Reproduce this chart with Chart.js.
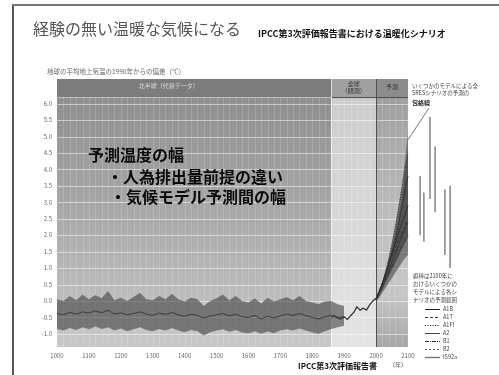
<!DOCTYPE html>
<html lang="ja">
<head>
<meta charset="utf-8">
<script src="https://cdn.jsdelivr.net/npm/chart.js@4.4.1/dist/chart.umd.min.js"></script>
<style>
html,body{margin:0;padding:0;background:#fff;}
#wrap{position:relative;width:499px;height:375px;}
</style>
</head>
<body>
<div id="wrap"><canvas id="c" width="499" height="375"></canvas></div>
<script>
const JP = '"Noto Sans CJK JP", "Noto Sans", sans-serif';

// axis tick labels
const yearTicks = [1000, 1100, 1200, 1300, 1400, 1500, 1600, 1700, 1800, 1900, 2000, 2100];
const tempTicks = [-1.0, -0.5, 0.0, 0.5, 1.0, 1.5, 2.0, 2.5, 3.0, 3.5, 4.0, 4.5, 5.0, 5.5, 6.0];

// Northern Hemisphere reconstruction (departure from 1990, °C)
const proxyYears = [1000, 1020, 1040, 1060, 1080, 1100, 1120, 1140, 1160, 1180,
                    1200, 1220, 1240, 1260, 1280, 1300, 1320, 1340, 1360, 1380,
                    1400, 1420, 1440, 1460, 1480, 1500, 1520, 1540, 1560, 1580,
                    1600, 1620, 1640, 1660, 1680, 1700, 1720, 1740, 1760, 1780,
                    1800, 1820, 1840, 1860, 1880, 1900];
const proxyMid  = [-0.38, -0.42, -0.35, -0.40, -0.33, -0.37, -0.30, -0.36, -0.28, -0.40,
                   -0.36, -0.42, -0.38, -0.33, -0.40, -0.44, -0.37, -0.41, -0.35, -0.42,
                   -0.47, -0.40, -0.44, -0.52, -0.46, -0.42, -0.38, -0.45, -0.40, -0.48,
                   -0.50, -0.44, -0.55, -0.46, -0.52, -0.45, -0.40, -0.44, -0.38, -0.45,
                   -0.50, -0.55, -0.48, -0.44, -0.50, -0.48];
const proxyHigh = [0.05, 0.00, 0.15, 0.02, 0.20, 0.05, 0.18, 0.08, 0.30, 0.02,
                   0.10, 0.00, 0.12, 0.25, 0.05, 0.02, 0.15, 0.05, 0.22, 0.05,
                   -0.02, 0.10, 0.05, -0.15, 0.00, 0.08, 0.20, 0.02, 0.15, 0.00,
                   -0.05, 0.08, -0.08, 0.10, -0.02, 0.05, 0.12, 0.02, 0.15, 0.00,
                   -0.05, -0.10, -0.02, 0.00, -0.10, -0.15];
const proxyLow  = [-0.85, -0.90, -0.82, -0.88, -0.80, -0.86, -0.78, -0.85, -0.80, -0.90,
                   -0.84, -0.92, -0.86, -0.80, -0.88, -0.92, -0.85, -0.90, -0.82, -0.90,
                   -0.95, -0.88, -0.92, -1.05, -0.95, -0.90, -0.86, -0.94, -0.88, -0.96,
                   -0.98, -0.92, -1.00, -0.93, -0.98, -0.90, -0.86, -0.90, -0.84, -0.90,
                   -0.96, -1.00, -0.92, -0.85, -0.80, -0.75];

// global instrumental record
const obsYears = [1860, 1870, 1880, 1890, 1900, 1910, 1920, 1930, 1940, 1950, 1960, 1970, 1980, 1990, 2000];
const obsTemp  = [-0.50, -0.45, -0.52, -0.55, -0.48, -0.56, -0.45, -0.35, -0.18, -0.28, -0.22, -0.28, -0.12, 0.00, 0.08];

// projections 2000-2100
const projYears    = [2000, 2010, 2020, 2030, 2040, 2050, 2060, 2070, 2080, 2090, 2100];
const envOuterLow  = [0.00, 0.10, 0.25, 0.40, 0.55, 0.70, 0.85, 1.00, 1.15, 1.30, 1.40];
const envOuterHigh = [0.05, 0.30, 0.60, 0.95, 1.35, 1.80, 2.30, 2.85, 3.45, 4.20, 5.10];
const envInnerLow  = [0.00, 0.15, 0.35, 0.55, 0.75, 0.95, 1.15, 1.35, 1.55, 1.75, 2.00];
const envInnerHigh = [0.05, 0.25, 0.50, 0.85, 1.20, 1.60, 2.05, 2.55, 3.10, 3.75, 4.50];

const scenarioNames = ['A1B', 'A1T', 'A1FI', 'A2', 'B1', 'B2', 'IS92a'];
const scenA1B   = [0.05, 0.30, 0.55, 0.85, 1.15, 1.45, 1.75, 2.05, 2.35, 2.60, 2.90];
const scenA1T   = [0.05, 0.30, 0.55, 0.85, 1.10, 1.35, 1.60, 1.85, 2.05, 2.25, 2.45];
const scenA1FI  = [0.05, 0.25, 0.50, 0.85, 1.25, 1.70, 2.20, 2.75, 3.35, 3.95, 4.50];
const scenA2    = [0.05, 0.25, 0.50, 0.80, 1.10, 1.45, 1.85, 2.30, 2.80, 3.30, 3.80];
const scenB1    = [0.05, 0.25, 0.45, 0.65, 0.85, 1.05, 1.25, 1.45, 1.65, 1.80, 2.00];
const scenB2    = [0.05, 0.25, 0.50, 0.75, 0.95, 1.20, 1.40, 1.65, 1.90, 2.15, 2.40];
const scenIS92a = [0.05, 0.25, 0.45, 0.70, 0.95, 1.20, 1.45, 1.70, 1.95, 2.20, 2.40];

// range reached in 2100 by several models, per scenario
const rangeNames = ['A1B', 'A1T', 'A1FI', 'A2', 'B1', 'B2'];
const rangeLow   = [2.0, 1.8, 3.1, 2.7, 1.4, 1.0];
const rangeHigh  = [3.8, 3.3, 5.6, 4.7, 3.4, 3.5];

// ---- drawing setup ----
const scenarioSeries = [scenA1B, scenA1T, scenA1FI, scenA2, scenB1, scenB2, scenIS92a];
const scenarioStyle = [
  { color: '#222', width: 1,   dash: [] },
  { color: '#333', width: 1,   dash: [3, 2] },
  { color: '#111', width: 1,   dash: [1, 1.5] },
  { color: '#444', width: 1,   dash: [] },
  { color: '#333', width: 1,   dash: [4, 1, 1, 1] },
  { color: '#555', width: 1,   dash: [2, 2] },
  { color: '#777', width: 1.4, dash: [] }
];
// horizontal slots (in year units, right of 2100) for the 2100 range bars
const barSlots = [2138, 2150, 2169, 2185, 2216, 2232];

const pts = (xs, ys) => xs.map((x, i) => ({ x: x, y: ys[i] }));
const base = { pointRadius: 0, borderWidth: 0, tension: 0 };

const rangePoints = [];
rangeNames.forEach((n, i) => {
  rangePoints.push({ x: barSlots[i], y: rangeLow[i] });
  rangePoints.push({ x: barSlots[i], y: rangeHigh[i] });
  rangePoints.push({ x: barSlots[i], y: null });
});

const datasets = [
  Object.assign({}, base, { label: 'proxyLow',  data: pts(proxyYears, proxyLow),  fill: false, borderColor: 'transparent' }),
  Object.assign({}, base, { label: 'proxyHigh', data: pts(proxyYears, proxyHigh), fill: '-1', borderColor: 'transparent', backgroundColor: 'rgba(60,60,60,0.58)' }),
  Object.assign({}, base, { label: 'proxy',     data: pts(proxyYears, proxyMid),  fill: false, borderColor: '#3a3a3a', borderWidth: 1 }),
  Object.assign({}, base, { label: 'obs',       data: pts(obsYears, obsTemp),     fill: false, borderColor: '#333', borderWidth: 1.3 }),
  Object.assign({}, base, { label: 'outerLow',  data: pts(projYears, envOuterLow), fill: false, borderColor: 'transparent' }),
  Object.assign({}, base, { label: 'outerHigh', data: pts(projYears, envOuterHigh), fill: '-1', borderColor: 'transparent', backgroundColor: 'rgba(60,60,60,0.55)' }),
  Object.assign({}, base, { label: 'innerLow',  data: pts(projYears, envInnerLow), fill: false, borderColor: 'transparent' }),
  Object.assign({}, base, { label: 'innerHigh', data: pts(projYears, envInnerHigh), fill: '-1', borderColor: 'transparent', backgroundColor: 'rgba(30,30,30,0.5)' })
];
scenarioNames.forEach((n, i) => {
  const st = scenarioStyle[i];
  datasets.push(Object.assign({}, base, {
    label: n, data: pts(projYears, scenarioSeries[i]), fill: false,
    borderColor: st.color, borderWidth: st.width, borderDash: st.dash
  }));
});
datasets.push(Object.assign({}, base, {
  label: 'range2100', data: rangePoints, fill: false, spanGaps: false,
  borderColor: '#666', borderWidth: 1.2
}));

// backgrounds, grid, header band and frame
const backdrop = {
  id: 'backdrop',
  beforeDraw(chart) {
    const ctx = chart.ctx, a = chart.chartArea;
    const xs = chart.scales.x, ys = chart.scales.y;
    const xp = v => xs.getPixelForValue(v), yp = v => ys.getPixelForValue(v);
    ctx.save();
    ctx.fillStyle = '#fff';
    ctx.fillRect(0, 0, chart.width, chart.height);

    // slide frame
    ctx.fillStyle = '#555';
    ctx.fillRect(12, 4, 2, chart.height - 4);
    ctx.fillStyle = '#777';
    ctx.fillRect(12, 4, chart.width - 12, 2);

    const top = a.top, bot = a.bottom;
    const x0 = xp(1000), x1 = xp(1860), x2 = xp(2000), x3 = xp(2100);

    let g = ctx.createLinearGradient(0, top, 0, bot);
    g.addColorStop(0, '#8a8a8a'); g.addColorStop(0.45, '#a6a6a6'); g.addColorStop(1, '#c8c8c8');
    ctx.fillStyle = g; ctx.fillRect(x0, top, x1 - x0, bot - top);

    g = ctx.createLinearGradient(0, top, 0, bot);
    g.addColorStop(0, '#cbcbcb'); g.addColorStop(1, '#e4e4e4');
    ctx.fillStyle = g; ctx.fillRect(x1, top, x2 - x1, bot - top);

    g = ctx.createLinearGradient(0, top, 0, bot);
    g.addColorStop(0, '#9a9a9a'); g.addColorStop(0.55, '#c0c0c0'); g.addColorStop(0.8, '#c6c6c6'); g.addColorStop(1, '#a6a6a6');
    ctx.fillStyle = g; ctx.fillRect(x2, top, x3 - x2, bot - top);

    // fine vertical grid
    ctx.strokeStyle = 'rgba(255,255,255,0.16)';
    ctx.lineWidth = 1;
    for (let yr = 1020; yr < 2100; yr += 20) {
      const x = Math.round(xp(yr)) + 0.5;
      ctx.beginPath(); ctx.moveTo(x, top); ctx.lineTo(x, bot); ctx.stroke();
    }
    // horizontal grid at tick values
    ctx.strokeStyle = 'rgba(255,255,255,0.5)';
    tempTicks.forEach(v => {
      const y = Math.round(yp(v)) + 0.5;
      ctx.beginPath(); ctx.moveTo(x0, y); ctx.lineTo(x3, y); ctx.stroke();
    });

    // header band
    const hb = yp(6.2);
    ctx.fillStyle = '#7c7c7c'; ctx.fillRect(x0, top, x1 - x0, hb - top);
    ctx.fillStyle = '#a0a0a0'; ctx.fillRect(x1, top, x2 - x1, hb - top);
    ctx.fillStyle = '#8c8c8c'; ctx.fillRect(x2, top, x3 - x2, hb - top);
    ctx.strokeStyle = 'rgba(255,255,255,0.45)';
    ctx.beginPath(); ctx.moveTo(x0, hb + 0.5); ctx.lineTo(x1, hb + 0.5); ctx.stroke();
    ctx.strokeStyle = '#4a4a4a';
    ctx.beginPath(); ctx.moveTo(x1, hb + 0.5); ctx.lineTo(x3, hb + 0.5); ctx.stroke();

    // period separators
    ctx.strokeStyle = 'rgba(255,255,255,0.6)';
    ctx.beginPath(); ctx.moveTo(Math.round(x1) + 0.5, top); ctx.lineTo(Math.round(x1) + 0.5, bot); ctx.stroke();
    ctx.strokeStyle = '#505050';
    ctx.beginPath(); ctx.moveTo(Math.round(x2) + 0.5, top); ctx.lineTo(Math.round(x2) + 0.5, bot); ctx.stroke();

    // header labels
    ctx.textBaseline = 'middle';
    ctx.textAlign = 'center';
    ctx.font = '6px ' + JP;
    ctx.fillStyle = '#dedede';
    ctx.fillText('北半球（代替データ）', xp(1350), top + 7);
    ctx.fillStyle = '#333';
    ctx.fillText('全球', xp(1930), top + 5);
    ctx.fillText('（観測）', xp(1930), top + 12);
    ctx.fillText('予測', xp(2050), top + 8);
    ctx.restore();
  },
  afterDatasetsDraw(chart) {
    const ctx = chart.ctx;
    const xs = chart.scales.x, ys = chart.scales.y;
    const xp = v => xs.getPixelForValue(v), yp = v => ys.getPixelForValue(v);
    ctx.save();
    ctx.textBaseline = 'middle';
    ctx.textAlign = 'left';

    // headings
    ctx.fillStyle = '#555';
    ctx.font = '16px ' + JP;
    ctx.fillText('経験の無い温暖な気候になる', 33, 29);
    ctx.fillStyle = '#111';
    ctx.font = 'bold 9px ' + JP;
    ctx.fillText('IPCC第3次評価報告書における温暖化シナリオ', 258, 34);
    ctx.fillStyle = '#666';
    ctx.font = '6.5px ' + JP;
    ctx.fillText('地球の平均地上気温の1990年からの偏差（℃）', 47, 72);

    // in-plot annotation
    ctx.fillStyle = '#0a0a0a';
    ctx.font = 'bold 16px ' + JP;
    ctx.fillText('予測温度の幅', 88, 155);
    ctx.fillText('・人為排出量前提の違い', 107, 177);
    ctx.fillText('・気候モデル予測間の幅', 110, 197);

    // envelope callout
    ctx.fillStyle = '#444';
    ctx.font = '5.5px ' + JP;
    ctx.fillText('いくつかのモデルによる全', 412, 86);
    ctx.fillText('SRESシナリオの予測の', 412, 93);
    ctx.font = 'bold 6px ' + JP;
    ctx.fillStyle = '#222';
    ctx.fillText('包絡線', 412, 103);
    ctx.strokeStyle = '#555';
    ctx.lineWidth = 0.8;
    ctx.beginPath(); ctx.moveTo(429, 108); ctx.lineTo(xp(2100), yp(4.9)); ctx.stroke();

    // range bar caption
    ctx.fillStyle = '#444';
    ctx.font = '5.5px ' + JP;
    ['縦棒は2100年に', 'おけるいくつかの', 'モデルによる各シ', 'ナリオの予測範囲'].forEach((t, i) => {
      ctx.fillText(t, 413, 276 + i * 8);
    });

    // scenario key
    scenarioNames.forEach((n, i) => {
      const st = scenarioStyle[i];
      const y = 309 + i * 8;
      ctx.strokeStyle = st.color;
      ctx.lineWidth = st.width;
      ctx.setLineDash(st.dash);
      ctx.beginPath(); ctx.moveTo(425, y + 0.5); ctx.lineTo(440, y + 0.5); ctx.stroke();
      ctx.setLineDash([]);
      ctx.fillStyle = '#444';
      ctx.font = '5.5px ' + JP;
      ctx.fillText(n, 443, y);
    });

    // axis footer
    ctx.fillStyle = '#111';
    ctx.font = 'bold 8px ' + JP;
    ctx.fillText('IPCC第3次評価報告書', 298, 366);
    ctx.fillStyle = '#555';
    ctx.font = '6px ' + JP;
    ctx.fillText('（年）', 389, 365);
    ctx.restore();
  }
};

new Chart(document.getElementById('c'), {
  type: 'line',
  data: { datasets: datasets },
  options: {
    responsive: false,
    devicePixelRatio: 1,
    animation: false,
    parsing: true,
    layout: { padding: { left: 17, right: 40, top: 79, bottom: 12 } },
    plugins: { legend: { display: false }, tooltip: { enabled: false }, title: { display: false } },
    scales: {
      x: {
        type: 'linear', min: 1000, max: 2260,
        afterBuildTicks: s => { s.ticks = yearTicks.map(v => ({ value: v })); },
        afterFit: s => { s.height = 16; },
        grid: { display: false, drawTicks: false },
        border: { display: false },
        ticks: { font: { family: JP, size: 6 }, color: '#666', padding: 5, maxRotation: 0, autoSkip: false, callback: v => String(v) }
      },
      y: {
        type: 'linear', min: -1.4, max: 6.75,
        afterBuildTicks: s => { s.ticks = tempTicks.map(v => ({ value: v })); },
        afterFit: s => { s.width = 40; },
        grid: { display: false, drawTicks: false },
        border: { display: false },
        ticks: { font: { family: JP, size: 6 }, color: '#666', padding: 5, autoSkip: false, callback: v => Number(v).toFixed(1) }
      }
    }
  },
  plugins: [backdrop]
});
</script>
</body>
</html>
